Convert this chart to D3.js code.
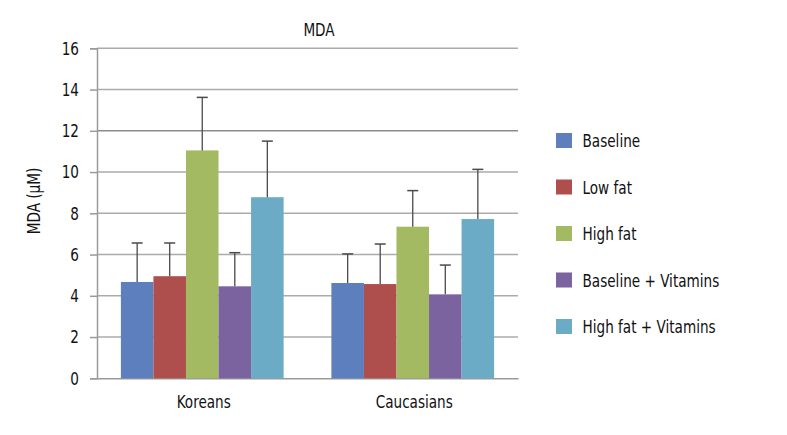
<!DOCTYPE html>
<html><head><meta charset="utf-8">
<script src="https://cdn.jsdelivr.net/npm/d3@7"></script>
<style>
body{margin:0;background:#fff;}
text{font-family:"DejaVu Sans Condensed","DejaVu Sans",sans-serif;font-stretch:condensed;fill:#111;}
</style></head><body>
<svg id="c" width="787" height="435"></svg>
<script>
const categories = ["Koreans", "Caucasians"];
const seriesNames = ["Baseline", "Low fat", "High fat", "Baseline + Vitamins", "High fat + Vitamins"];
const colors = ["#5d7fbd", "#af4f4d", "#a3b962", "#7b63a0", "#6babc6"];
// values per series: [Koreans, Caucasians]
const baseline = [4.67, 4.62];
const lowFat = [4.95, 4.57];
const highFat = [11.05, 7.35];
const baselineVit = [4.46, 4.07];
const highFatVit = [8.78, 7.72];
// upper error bar ends
const baselineErr = [6.56, 6.03];
const lowFatErr = [6.56, 6.51];
const highFatErr = [13.62, 9.10];
const baselineVitErr = [6.09, 5.49];
const highFatVitErr = [11.50, 10.13];
const yTicks = [0, 2, 4, 6, 8, 10, 12, 14, 16];

const values = [baseline, lowFat, highFat, baselineVit, highFatVit];
const errs = [baselineErr, lowFatErr, highFatErr, baselineVitErr, highFatVitErr];

const SX = 0.84; // horizontal condensing of text
const FS = 18;
const svg = d3.select("#c");
const pLeft = 97, pRight = 518, pTop = 48.3, pBottom = 378.3;
const y = d3.scaleLinear().domain([0, 16]).range([pBottom, pTop]);
const x0 = d3.scaleBand().domain(categories).range([pLeft, pRight]).paddingInner(0.227).paddingOuter(0.1135);
const x1 = d3.scaleBand().domain(seriesNames).range([0, x0.bandwidth()]);

// gridlines
svg.append("g").selectAll("line").data(yTicks.filter(d => d > 0)).join("line")
  .attr("x1", pLeft).attr("x2", pRight)
  .attr("y1", d => y(d)).attr("y2", d => y(d))
  .attr("stroke", d => d === 12 ? "#8c8c8c" : "#ababab").attr("stroke-width", 1.5);

// y axis
const yAxis = d3.axisLeft(y).tickValues(yTicks).tickSize(7).tickPadding(11);
const gy = svg.append("g").attr("transform", `translate(${pLeft},0)`).call(yAxis);
gy.select(".domain").attr("stroke", "#9a9a9a").attr("stroke-width", 1.5);
gy.selectAll(".tick line").attr("stroke", "#9a9a9a").attr("stroke-width", 1.5);
gy.selectAll(".tick text").attr("font-size", FS).attr("fill", "#111")
  .attr("x", -18 / SX).attr("transform", `scale(${SX},1)`)
  .style("font-family", '"DejaVu Sans Condensed","DejaVu Sans",sans-serif');

// x axis baseline
const xAxis = d3.axisBottom(x0).tickSize(0).tickPadding(17);
const gx = svg.append("g").attr("transform", `translate(0,${pBottom})`).call(xAxis);
gx.select(".domain").attr("stroke", "#9a9a9a").attr("stroke-width", 1.5);
gx.selectAll(".tick text").attr("font-size", FS).attr("fill", "#111")
  .attr("transform", `translate(1.5,0) scale(${SX},1)`)
  .style("font-family", '"DejaVu Sans Condensed","DejaVu Sans",sans-serif');

// bars
const groups = svg.append("g").selectAll("g").data(categories).join("g")
  .attr("transform", d => `translate(${x0(d)},0)`);
seriesNames.forEach((s, si) => {
  groups.append("rect")
    .attr("x", x1(s)).attr("width", x1.bandwidth())
    .attr("y", (d, ci) => y(values[si][ci]))
    .attr("height", (d, ci) => y(0) - y(values[si][ci]))
    .attr("fill", colors[si]);
});
// error bars
seriesNames.forEach((s, si) => {
  const cx = x1(s) + x1.bandwidth() / 2;
  groups.append("line")
    .attr("x1", cx).attr("x2", cx)
    .attr("y1", (d, ci) => y(values[si][ci]))
    .attr("y2", (d, ci) => y(errs[si][ci]))
    .attr("stroke", "#4a4a4a").attr("stroke-width", 1.3);
  groups.append("line")
    .attr("x1", cx - 5.5).attr("x2", cx + 5.5)
    .attr("y1", (d, ci) => y(errs[si][ci]))
    .attr("y2", (d, ci) => y(errs[si][ci]))
    .attr("stroke", "#4a4a4a").attr("stroke-width", 1.5);
});

// title
svg.append("text").attr("transform", `translate(319,36) scale(${SX},1)`).attr("text-anchor", "middle").attr("font-size", FS).text("MDA");
// y label
svg.append("text").attr("transform", `translate(40,201) rotate(-90) scale(${SX},1)`).attr("text-anchor", "middle").attr("font-size", FS).text("MDA (μM)");

// legend
const leg = svg.append("g").selectAll("g").data(seriesNames).join("g")
  .attr("transform", (d, i) => `translate(556,${140.5 + i * 46.5})`);
leg.append("rect").attr("x", 0).attr("y", -7.5).attr("width", 16).attr("height", 15).attr("fill", (d, i) => colors[i]);
leg.append("text").attr("transform", `translate(26.5,6.8) scale(${SX},1)`).attr("font-size", FS).text(d => d);
</script>
</body></html>
